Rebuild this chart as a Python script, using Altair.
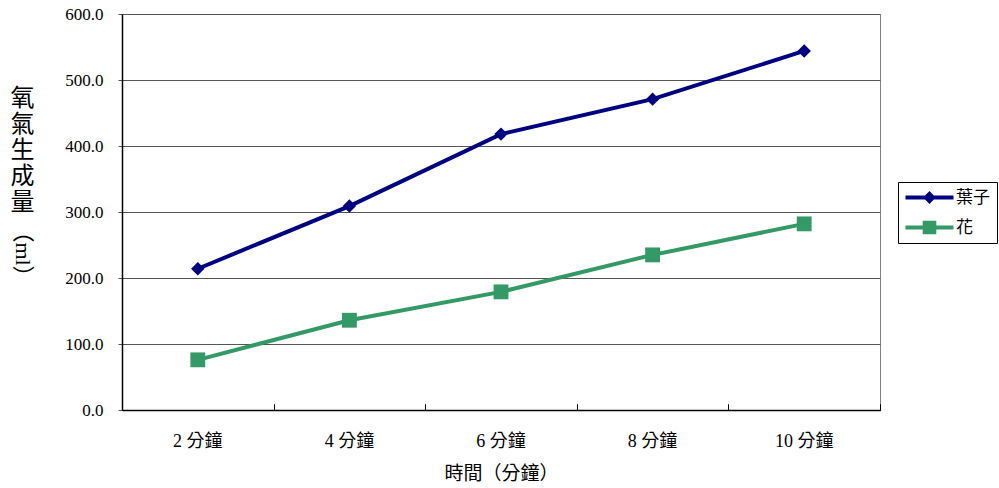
import altair as alt
import pandas as pd

# Oxygen produced over time by leaves and flowers
times = ["2 分鐘", "4 分鐘", "6 分鐘", "8 分鐘", "10 分鐘"]
leaf_ml = [214, 309, 418, 471, 544]
flower_ml = [76, 136, 179, 235, 282]

series_names = ["葉子", "花"]
series_colors = ["#000080", "#339966"]
marker_shapes = ["diamond", "square"]
y_ticks = [0, 100, 200, 300, 400, 500, 600]
y_title_chars = ["氧", "氣", "生", "成", "量"]
y_unit = ["（ml）"]

rows = []
for name, values in zip(series_names, [leaf_ml, flower_ml]):
    for t, v in zip(times, values):
        rows.append({"時間": t, "組別": name, "氧氣生成量": v})
df = pd.DataFrame(rows)

FONT = "Liberation Serif, Noto Sans CJK TC"
W, H = 758, 396

# legend glyphs: a short line segment with the series marker on top
legend_paths = [
    "M-3,-0.25H3V0.25H-3Z M0,-0.8L0.8,0L0,0.8L-0.8,0Z",
    "M-3,-0.25H3V0.25H-3Z M-0.85,-0.85H0.85V0.85H-0.85Z",
]

legend = alt.Legend(
    orient="none",
    legendX=776,
    legendY=168,
    title=None,
    symbolSize=256,
    symbolOffset=16,
    labelOffset=18,
    labelFont=FONT,
    labelFontSize=17,
    labelColor="black",
    rowPadding=12,
    padding=7,
    strokeColor="black",
    fillColor="white",
    symbolStrokeWidth=0,
    symbolOpacity=1,
)

color_scale = alt.Scale(domain=series_names, range=series_colors)
color = alt.Color("組別:N", scale=color_scale, legend=legend)

y_axis = alt.Axis(
    values=y_ticks,
    format=".1f",
    labelFont=FONT,
    labelFontSize=17,
    labelColor="black",
    labelPadding=15,
    tickSize=4,
    tickColor="#555555",
    domainColor="black",
    domainWidth=1.5,
    gridColor="#555555",
    gridWidth=1,
    title=y_title_chars,
    titleFont=FONT,
    titleFontSize=24,
    titleFontWeight="normal",
    titleLineHeight=26,
    titleAngle=0,
    titleAlign="center",
    titleBaseline="top",
    titleX=-100,
    titleY=72,
    titleColor="black",
)
y = alt.Y(
    "氧氣生成量:Q",
    scale=alt.Scale(domain=[0, 600], nice=False),
    axis=y_axis,
)

x_scale = alt.Scale(type="band", domain=times, paddingInner=0, paddingOuter=0)

x_bottom = alt.X(
    "時間:N",
    scale=x_scale,
    bandPosition=0.5,
    axis=alt.Axis(
        orient="bottom",
        ticks=False,
        labelAngle=0,
        labelFont=FONT,
        labelFontSize=18,
        labelColor="black",
        labelPadding=22,
        domainColor="black",
        domainWidth=1.5,
        grid=False,
        title="時間（分鐘）",
        titleFont=FONT,
        titleFontSize=19,
        titleFontWeight="normal",
        titleColor="black",
        titlePadding=14,
    ),
)

# inward tick marks at category boundaries along the bottom edge
x_ticks = alt.X(
    "時間:N",
    scale=x_scale,
    bandPosition=0.5,
    axis=alt.Axis(
        orient="top",
        offset=-H,
        labels=False,
        domain=False,
        grid=False,
        ticks=True,
        tickBand="extent",
        tickSize=6,
        tickColor="black",
        tickWidth=1,
        title=None,
    ),
)

# legend-only layer (no rows survive the filter); its shapes carry a line segment
legend_layer = alt.Chart(df).transform_filter("false").mark_point(filled=True, opacity=1).encode(
    x=alt.X("時間:N", scale=x_scale, axis=None),
    y=y,
    color=color,
    shape=alt.Shape(
        "組別:N",
        scale=alt.Scale(domain=series_names, range=legend_paths),
        legend=legend,
    ),
)

lines = alt.Chart(df).mark_line(strokeWidth=4).encode(
    x=x_bottom,
    y=y,
    color=color,
    detail="組別:N",
)

# markers: diamonds for leaves, squares for flowers
marker_layers = [
    alt.Chart(df)
    .transform_filter(alt.datum["組別"] == name)
    .mark_point(filled=True, opacity=1, size=size, shape=shape)
    .encode(x=x_ticks, y=y, color=color)
    for name, shape, size in zip(series_names, marker_shapes, [180, 220])
]

unit = alt.Chart(pd.DataFrame({"單位": y_unit})).mark_text(
    angle=90,
    align="center",
    baseline="middle",
    font=FONT,
    fontSize=22,
    color="black",
).encode(
    x=alt.value(-99),
    y=alt.value(240),
    text="單位:N",
)

chart = (
    alt.layer(legend_layer, lines, *marker_layers, unit)
    .resolve_axis(x="independent")
    .properties(
        width=W,
        height=H,
        padding={"left": 122, "top": 14, "right": 119, "bottom": 78},
        autosize=alt.AutoSizeParams(type="none"),
        background="white",
    )
    .configure_view(stroke="#808080", strokeWidth=1)
)

chart.save("out.html", embed_options={"renderer": "svg", "actions": False})
